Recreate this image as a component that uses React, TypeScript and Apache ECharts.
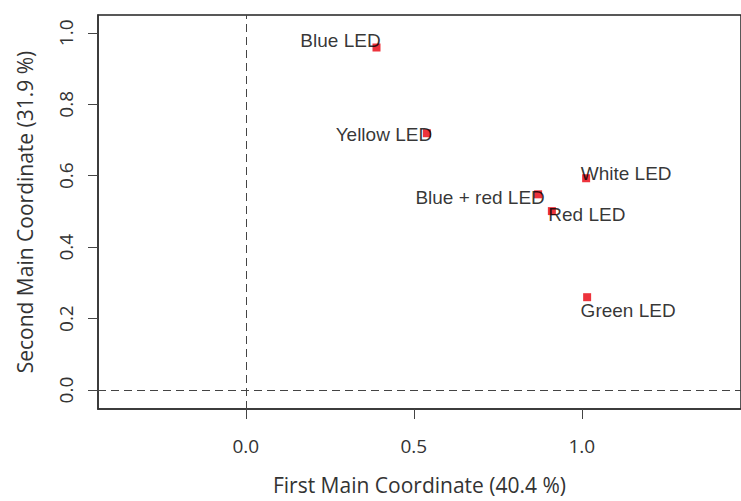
import React, { useEffect, useRef } from "react";
import * as echarts from "echarts";

const names = ["Blue LED", "Yellow LED", "White LED", "Blue + red LED", "Red LED", "Green LED"];
const xValues = [0.389, 0.539, 1.013, 0.87, 0.911, 1.016];
const yValues = [0.959, 0.719, 0.593, 0.548, 0.501, 0.26];
const xTicks = [0, 0.5, 1.0];
const yTicks = [0, 0.2, 0.4, 0.6, 0.8, 1.0];
const xTitle = "First Main Coordinate (40.4 %)";
const yTitle = "Second Main Coordinate (31.9 %)";

// label placement (text centre relative to marker centre), keyed by name
const labelOffsets: Record<string, [number, number]> = {
  "Blue LED": [-36, -7],
  "Yellow LED": [-43, 1],
  "White LED": [40, -5],
  "Blue + red LED": [-58, 3],
  "Red LED": [35, 3],
  "Green LED": [41, 13],
};

export default function App() {
  const ref = useRef<HTMLDivElement>(null);
  useEffect(() => {
    if (!ref.current) return;
    const chart = echarts.init(ref.current, null, { renderer: "svg" });
    const axisFont = "'Open Sans', 'DejaVu Sans', sans-serif";
    chart.setOption({
      animation: false,
      backgroundColor: "#ffffff",
      grid: {
        left: 98,
        top: 15,
        right: -4,
        bottom: 92,
        show: true,
        borderColor: "#222",
        borderWidth: 1.5,
        containLabel: false,
      },
      xAxis: {
        type: "value",
        min: -0.44,
        max: 1.474,
        name: xTitle,
        nameLocation: "middle",
        nameGap: 65,
        nameTextStyle: { fontFamily: axisFont, fontSize: 21, color: "#333" },
        splitLine: { show: false },
        axisLine: { show: true, onZero: false, lineStyle: { color: "#333", width: 1.5 } },
        axisTick: { show: true, length: 10, inside: false, customValues: xTicks, lineStyle: { color: "#444" } },
        axisLabel: {
          customValues: xTicks,
          formatter: (v: number) => v.toFixed(1),
          fontFamily: axisFont,
          fontSize: 19,
          color: "#333",
          margin: 27,
        },
      },
      yAxis: {
        type: "value",
        min: -0.053,
        max: 1.05,
        name: yTitle,
        nameLocation: "middle",
        nameGap: 63,
        nameTextStyle: { fontFamily: axisFont, fontSize: 21, color: "#333" },
        splitLine: { show: false },
        axisLine: { show: true, onZero: false, lineStyle: { color: "#333", width: 1.5 } },
        axisTick: { show: true, length: 10, inside: false, customValues: yTicks, lineStyle: { color: "#444" } },
        axisLabel: {
          customValues: yTicks,
          formatter: (v: number) => v.toFixed(1),
          fontFamily: axisFont,
          fontSize: 19,
          color: "#333",
          rotate: 90,
          margin: 23,
        },
      },
      series: [
        {
          type: "scatter",
          symbol: "rect",
          symbolSize: 8,
          itemStyle: { color: "#e8000b" },
          z: 3,
          data: names.map((n, i) => ({
            name: n,
            value: [xValues[i], yValues[i]],
            label: {
              show: true,
              formatter: n,
              position: "inside",
              align: "center",
              verticalAlign: "middle",
              offset: labelOffsets[n],
              color: "#000",
              textBorderWidth: 0,
              textBorderColor: "transparent",
              fontFamily: "'Liberation Sans', Arial, sans-serif",
              fontSize: 19,
            },
          })),
          markLine: {
            silent: true,
            symbol: "none",
            label: { show: false },
            lineStyle: { type: [8, 5], color: "#444", width: 1 },
            data: [{ xAxis: 0 }, { yAxis: 0 }],
          },
        },
      ],
    });
    return () => chart.dispose();
  }, []);
  return (
    <div
      ref={ref}
      style={{ position: "fixed", left: 0, top: 0, width: 741, height: 501, background: "#fff" }}
    />
  );
}
